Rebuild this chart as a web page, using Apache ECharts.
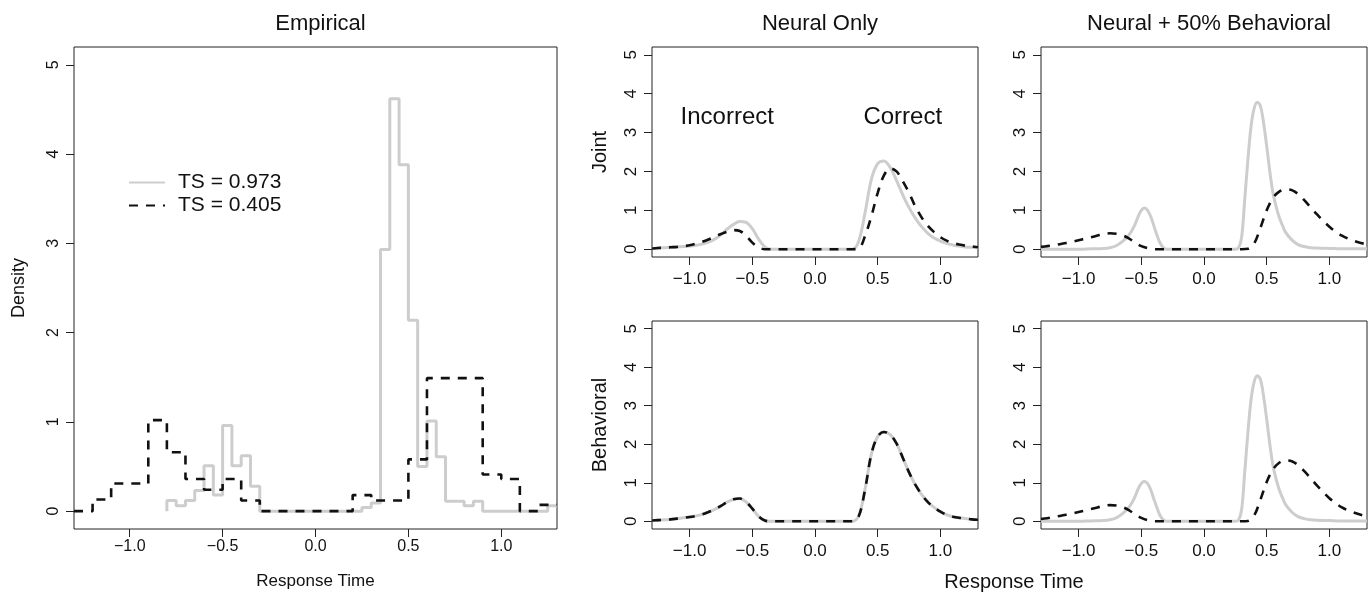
<!DOCTYPE html>
<html><head><meta charset="utf-8">
<script src="https://cdn.jsdelivr.net/npm/echarts@6/dist/echarts.min.js"></script>
<style>html,body{margin:0;padding:0;background:#fff}#c{width:1371px;height:598px}</style>
</head><body><div id="c"></div>
<script>
// ---------- tick values / labels ----------
const xTicks = [-1, -0.5, 0, 0.5, 1];
const xTickLabels = ['−1.0', '−0.5', '0.0', '0.5', '1.0'];
const yTicks = [0, 1, 2, 3, 4, 5];
const yTickLabels = ['0', '1', '2', '3', '4', '5'];

const seriesNames = ['TS = 0.973', 'TS = 0.405'];
const panelTitles = ['Empirical', 'Neural Only', 'Neural + 50% Behavioral'];
const rowNames = ['Joint', 'Behavioral'];
const annotations = ['Incorrect', 'Correct'];

// ---------- Empirical histograms ----------
const empGrayEdges = [-0.80,-0.75,-0.70,-0.65,-0.60,-0.55,-0.50,-0.45,-0.40,-0.35,
  -0.30,-0.25,-0.20,-0.15,-0.10,-0.05,0.00,0.05,0.10,0.15,
  0.20,0.25,0.30,0.35,0.40,0.45,0.50,0.55,0.60,0.65,
  0.70,0.75,0.80,0.85,0.90,0.95,1.00,1.05,1.10,1.15,
  1.20,1.25,1.30];
const empGrayDensity = [0.12,0.06,0.12,0.23,0.51,0.18,0.96,0.51,0.62,0.28,
  0,0,0,0,0,0,0,0,0,0,
  0,0.04,0.09,2.93,4.62,3.88,2.14,0.50,1.01,0.61,
  0.11,0.11,0.06,0.11,0,0,0,0,0,0,
  0,0.06];
const empDashEdges = [-1.3,-1.2,-1.1,-1.0,-0.9,-0.8,-0.7,-0.6,-0.5,-0.4,-0.3,-0.2,-0.1,
  0.0,0.1,0.2,0.3,0.4,0.5,0.6,0.7,0.8,0.9,1.0,1.1,1.2,1.3];
const empDashDensity = [0,0.13,0.31,0.31,1.02,0.66,0.36,0.24,0.36,0.12,0,0,0,
  0,0,0.18,0.12,0.12,0.58,1.49,1.49,1.49,0.41,0.36,0,0.07];

// ---------- model density curves ----------
const curveX = [-1.30,-1.25,-1.20,-1.15,-1.10,-1.05,-1.00,-0.95,-0.90,-0.85,-0.80,-0.75,-0.70,-0.65,-0.60,-0.55,-0.50,-0.45,-0.40,-0.35,
  -0.30,-0.25,-0.20,-0.15,-0.10,-0.05,0.00,0.05,0.10,0.15,0.20,0.25,0.30,
  0.35,0.40,0.45,0.50,0.55,0.60,0.65,0.70,0.75,0.80,0.85,0.90,0.95,1.00,1.05,1.10,1.15,1.20,1.25,1.30];

const neuralJointGray = [0.02,0.03,0.04,0.05,0.06,0.07,0.08,0.10,0.13,0.18,0.26,0.37,0.52,0.64,0.71,0.69,0.53,0.26,0.06,0,
  0,0,0,0,0,0,0,0,0,0,0,0,0,
  0.22,0.95,1.80,2.20,2.27,2.10,1.77,1.40,1.07,0.80,0.58,0.41,0.29,0.21,0.15,0.11,0.08,0.06,0.05,0.04];
const neuralJointDashed = [0.02,0.03,0.04,0.05,0.06,0.08,0.10,0.14,0.19,0.25,0.32,0.39,0.45,0.49,0.47,0.35,0.17,0.05,0,0,
  0,0,0,0,0,0,0,0,0,0,0,0,0,
  0.02,0.35,0.85,1.45,1.90,2.08,2.00,1.75,1.45,1.10,0.82,0.60,0.44,0.31,0.22,0.16,0.12,0.09,0.07,0.05];

const neuralBehavGray = [0.02,0.03,0.04,0.05,0.07,0.09,0.11,0.14,0.18,0.24,0.31,0.40,0.50,0.57,0.59,0.50,0.33,0.13,0.02,0,
  0,0,0,0,0,0,0,0,0,0,0,0,0,
  0.15,0.85,1.75,2.20,2.32,2.25,2.02,1.65,1.27,0.95,0.70,0.50,0.36,0.25,0.17,0.12,0.09,0.07,0.05,0.04];
const neuralBehavDashed = [0.02,0.03,0.04,0.05,0.07,0.09,0.11,0.14,0.18,0.24,0.31,0.40,0.50,0.57,0.59,0.50,0.33,0.13,0.02,0,
  0,0,0,0,0,0,0,0,0,0,0,0,0,
  0.14,0.84,1.75,2.20,2.32,2.25,2.02,1.65,1.27,0.95,0.70,0.50,0.36,0.25,0.17,0.12,0.09,0.07,0.05,0.04];

const mixGrayX = [-1.30,-1.20,-1.10,-1.00,-0.90,-0.80,-0.75,-0.70,-0.65,-0.60,-0.575,-0.55,-0.525,-0.50,-0.475,
  -0.45,-0.425,-0.40,-0.375,-0.35,-0.325,-0.30,-0.20,-0.10,0.00,0.10,0.20,0.25,0.275,0.30,
  0.325,0.35,0.375,0.40,0.425,0.45,0.475,0.50,0.525,0.55,0.575,0.60,0.625,0.65,0.70,
  0.75,0.80,0.85,0.90,1.00,1.10,1.20,1.30];
const mixJointGray = [0,0,0,0,0.01,0.02,0.04,0.09,0.20,0.36,0.48,0.64,0.84,1.00,1.06,
  1.00,0.84,0.60,0.36,0.16,0.04,0,0,0,0,0,0,0,0.03,0.30,
  1.28,2.30,3.15,3.62,3.78,3.68,3.25,2.65,2.00,1.45,1.10,0.82,0.62,0.44,0.24,
  0.12,0.07,0.04,0.03,0.02,0.01,0.01,0.01];
const mixJointDashed = [0.06,0.08,0.10,0.13,0.16,0.19,0.23,0.27,0.31,0.35,0.39,0.41,0.40,0.36,0.28,0.17,0.08,0.03,0,0,
  0,0,0,0,0,0,0,0,0,0,0,0,0,
  0.01,0.15,0.55,1.00,1.32,1.48,1.54,1.52,1.42,1.26,1.08,0.90,0.73,0.58,0.45,0.35,0.27,0.21,0.16,0.13];
const mixBehavGray = [0,0,0,0,0.01,0.02,0.04,0.09,0.20,0.36,0.48,0.64,0.84,0.98,1.03,
  0.98,0.82,0.58,0.35,0.15,0.04,0,0,0,0,0,0,0,0.03,0.30,
  1.28,2.30,3.15,3.62,3.78,3.68,3.25,2.65,2.00,1.45,1.10,0.82,0.62,0.44,0.24,
  0.12,0.07,0.04,0.03,0.02,0.01,0.01,0.01];
const mixBehavDashed = [0.06,0.08,0.11,0.14,0.17,0.20,0.24,0.28,0.32,0.36,0.40,0.42,0.41,0.37,0.29,0.18,0.09,0.03,0,0,
  0,0,0,0,0,0,0,0,0,0,0,0,0,
  0.01,0.15,0.56,1.02,1.35,1.52,1.58,1.56,1.46,1.30,1.12,0.93,0.76,0.60,0.47,0.36,0.28,0.22,0.17,0.13];

// ---------- helpers ----------
const FONT = 'Liberation Sans, Arial, Helvetica, sans-serif';
const GRAY = '#cdcdcd', BLACK = '#111111';

function pairs(xs, ys) { return xs.map((x, i) => [x, ys[i]]); }
function stepData(edges, vals, fromZero) {
  const d = [];
  if (fromZero) d.push([edges[0], 0]);
  vals.forEach((v, i) => d.push([edges[i], v]));
  d.push([edges[edges.length - 1], vals[vals.length - 1]]);
  return d;
}

const grids = [
  {left: 74, top: 47, width: 483, height: 482},
  {left: 652, top: 47, width: 326, height: 210},
  {left: 1041, top: 47, width: 326, height: 210},
  {left: 652, top: 321, width: 326, height: 208},
  {left: 1041, top: 321, width: 326, height: 208}
].map(g => Object.assign(g, {show: true, borderColor: '#222', borderWidth: 1, backgroundColor: 'transparent'}));

function xAx(i, name) {
  const big = i > 0;
  return {
    type: 'value', gridIndex: i, min: -1.3, max: 1.3,
    axisLine: {show: false, onZero: false}, splitLine: {show: false},
    axisTick: {show: true, customValues: xTicks, length: 8, lineStyle: {color: '#222', width: 1}},
    axisLabel: {customValues: xTicks, formatter: v => xTickLabels[xTicks.indexOf(v)],
      fontSize: big ? 17 : 16, color: '#111', fontFamily: FONT, margin: big ? 14 : 10},
    name: name || '', nameLocation: 'middle', nameGap: 44,
    nameTextStyle: {fontSize: 17, color: '#111', fontFamily: FONT}
  };
}
function yAx(i, name) {
  const big = i > 0;
  return {
    type: 'value', gridIndex: i, min: -0.2, max: 5.2,
    axisLine: {show: false, onZero: false}, splitLine: {show: false},
    axisTick: {show: true, customValues: yTicks, length: 8, lineStyle: {color: '#222', width: 1}},
    axisLabel: {customValues: yTicks, formatter: v => yTickLabels[yTicks.indexOf(v)], rotate: 90,
      fontSize: big ? 17 : 16, color: '#111', fontFamily: FONT, margin: 12},
    name: name || '', nameLocation: 'middle', nameGap: big ? 42 : 46,
    nameTextStyle: {fontSize: big ? 20 : 18, color: '#111', fontFamily: FONT}
  };
}

function grayLine(i, data, stepMode) {
  const s = {type: 'line', name: seriesNames[0], xAxisIndex: i, yAxisIndex: i, data: data,
    symbol: 'none', silent: true, z: 2,
    lineStyle: {color: GRAY, width: 3, type: 'solid'}, itemStyle: {color: GRAY}};
  if (stepMode) s.step = 'end'; else s.smooth = 0.35;
  return s;
}
function dashLine(i, data, stepMode) {
  const s = {type: 'line', name: seriesNames[1], xAxisIndex: i, yAxisIndex: i, data: data,
    symbol: 'none', silent: true, z: 3,
    lineStyle: {color: BLACK, width: 2.6, type: [9, 8], cap: 'butt'}, itemStyle: {color: BLACK}};
  if (stepMode) s.step = 'end'; else s.smooth = 0.35;
  return s;
}

const titleStyle = {fontSize: 22, fontWeight: 'normal', color: '#111', fontFamily: FONT};
const option = {
  animation: false,
  backgroundColor: '#fff',
  textStyle: {fontFamily: FONT},
  grid: grids,
  title: [
    {text: panelTitles[0], left: 315.5, top: 8, textAlign: 'center', textStyle: titleStyle},
    {text: panelTitles[1], left: 815, top: 8, textAlign: 'center', textStyle: titleStyle},
    {text: panelTitles[2], left: 1204, top: 8, textAlign: 'center', textStyle: titleStyle},
    {text: 'Response Time', left: 1009, top: 567, textAlign: 'center', textStyle: {fontSize: 20, fontWeight: 'normal', color: '#111', fontFamily: FONT}}
  ],
  legend: {
    data: seriesNames, orient: 'vertical', left: 123, top: 167,
    itemWidth: 36, itemHeight: 14, itemGap: 2, selectedMode: false,
    itemStyle: {opacity: 0},
    textStyle: {fontSize: 21, color: '#111', fontFamily: FONT, padding: [0, 0, 0, 8]}
  },
  xAxis: [xAx(0, 'Response Time'), xAx(1), xAx(2), xAx(3), xAx(4)],
  yAxis: [yAx(0, 'Density'), yAx(1, rowNames[0]), yAx(2), yAx(3, rowNames[1]), yAx(4)],
  series: [
    grayLine(0, stepData(empGrayEdges, empGrayDensity, true), true),
    dashLine(0, stepData(empDashEdges, empDashDensity, false), true),
    grayLine(1, pairs(curveX, neuralJointGray)),
    dashLine(1, pairs(curveX, neuralJointDashed)),
    grayLine(2, pairs(mixGrayX, mixJointGray)),
    dashLine(2, pairs(curveX, mixJointDashed)),
    grayLine(3, pairs(curveX, neuralBehavGray)),
    dashLine(3, pairs(curveX, neuralBehavDashed)),
    grayLine(4, pairs(mixGrayX, mixBehavGray)),
    dashLine(4, pairs(curveX, mixBehavDashed)),
    {type: 'scatter', name: 'annotations', xAxisIndex: 1, yAxisIndex: 1, symbolSize: 0, silent: true,
      itemStyle: {color: '#111', opacity: 1},
      data: [[-0.70, 3.4], [0.70, 3.4]],
      label: {show: true, position: 'inside', formatter: p => annotations[p.dataIndex], opacity: 1,
        fontSize: 24, color: '#111', fontFamily: FONT, textBorderWidth: 0, textBorderColor: 'transparent'}}
  ]
};

const chart = echarts.init(document.getElementById('c'), null, {renderer: 'canvas'});
chart.setOption(option);
</script>
</body></html>
